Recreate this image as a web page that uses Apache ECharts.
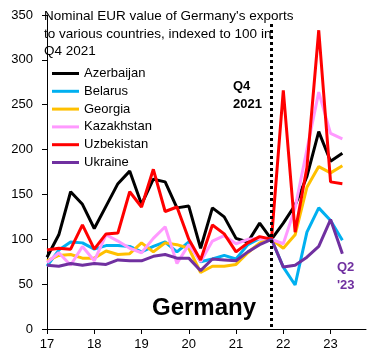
<!DOCTYPE html>
<html>
<head>
<meta charset="utf-8">
<script src="https://cdn.jsdelivr.net/npm/echarts@6/dist/echarts.min.js"></script>
<style>
html,body{margin:0;padding:0;background:#fff;}
#chart{width:383px;height:360px;}
</style>
</head>
<body>
<div id="chart"></div>
<script>
var quarters = ['2017 Q1','2017 Q2','2017 Q3','2017 Q4','2018 Q1','2018 Q2','2018 Q3','2018 Q4',
  '2019 Q1','2019 Q2','2019 Q3','2019 Q4','2020 Q1','2020 Q2','2020 Q3','2020 Q4',
  '2021 Q1','2021 Q2','2021 Q3','2021 Q4','2022 Q1','2022 Q2','2022 Q3','2022 Q4',
  '2023 Q1','2023 Q2','2023 Q3','2023 Q4'];
var azerbaijan = [80,105,153,139,112,137,162,176,139,167,164,135,137,90,135,125,101,97,118,100,118,138,170,220,187,196];
var belarus    = [70,88,97,96,89,93,93,92,86,92,97,86,97,75,78,82,78,94,101,100,69,49,108,135,121,99];
var georgia    = [76,82,83,79,79,87,83,84,96,86,96,94,90,63,70,70,72,85,96,100,90,105,158,181,174,182];
var kazakhstan = [74,85,71,92,76,105,98,90,85,101,114,73,94,75,98,104,95,100,101,100,95,135,200,264,218,212];
var uzbekistan = [88,90,89,116,89,106,107,153,136,178,131,136,100,77,116,106,86,96,103,100,266,108,180,333,164,162];
var ukraine    = [71,70,73,71,73,72,77,76,76,81,83,79,79,65,78,77,76,86,94,100,69,71,80,92,122,84];
var yTicks = [0,50,100,150,200,250,300,350];

var names = ['Azerbaijan','Belarus','Georgia','Kazakhstan','Uzbekistan','Ukraine'];
var colors = ['#000000','#00B0F0','#FFC000','#FF99FF','#FF0000','#7030A0'];
var values = [azerbaijan,belarus,georgia,kazakhstan,uzbekistan,ukraine];
var FONT = 'Liberation Sans';

var series = names.map(function(n,i){
  return {
    name:n, type:'line', data:values[i], symbol:'none', smooth:false,
    lineStyle:{color:colors[i], width:3}, itemStyle:{color:colors[i]},
    emphasis:{disabled:true}, animation:false
  };
});
series[5].markLine = {
  silent:true, symbol:'none', animation:false,
  label:{show:false},
  lineStyle:{color:'#000', width:3, type:[3,3]},
  data:[[{coord:['2021 Q4',340]},{coord:['2021 Q4',0]}]]
};

var chart = echarts.init(document.getElementById('chart'));
chart.setOption({
  animation:false,
  backgroundColor:'#fff',
  grid:{left:47, right:17, top:15, bottom:31, containLabel:false},
  title:[
    {text:"Nominal EUR value of Germany's exports\nto various countries, indexed to 100 in\nQ4 2021",
     left:44, top:8, padding:0, textStyle:{fontFamily:FONT, fontSize:13.5, fontWeight:'normal', color:'#000', lineHeight:17.5}},
    {text:'Q4\n2021', left:233, top:78, padding:0, textStyle:{fontFamily:FONT, fontSize:13, fontWeight:'bold', color:'#000', lineHeight:17.5}},
    {text:"Q2\n'23", left:337, top:259, padding:0, textStyle:{fontFamily:FONT, fontSize:13, fontWeight:'bold', color:'#7030A0', lineHeight:17.5}},
    {text:'Germany', left:152, top:296, padding:0, textStyle:{fontFamily:FONT, fontSize:24, fontWeight:'bold', color:'#000'}}
  ],
  legend:{
    orient:'vertical', left:52, top:67, padding:0, itemWidth:27, itemHeight:3, itemGap:4.8,
    icon:'rect', data:names,
    textStyle:{fontFamily:FONT, fontSize:13, color:'#000', padding:[0,0,0,0]}
  },
  xAxis:{
    type:'category', data:quarters, boundaryGap:false,
    axisLine:{lineStyle:{color:'#000', width:1}},
    axisTick:{show:true, inside:false, length:5, lineStyle:{color:'#000'},
      interval:function(i){return i%4===0;}},
    axisLabel:{interval:function(i){return i%4===0;}, margin:9,
      formatter:function(v){return v.slice(2,4);},
      fontFamily:FONT, fontSize:13, color:'#000'},
    splitLine:{show:false}
  },
  yAxis:{
    type:'value', min:yTicks[0], max:yTicks[yTicks.length-1], interval:50,
    axisLine:{show:true, lineStyle:{color:'#000', width:1}},
    axisTick:{show:true, inside:false, length:5, lineStyle:{color:'#000'}},
    axisLabel:{margin:14, fontFamily:FONT, fontSize:13, color:'#000'},
    splitLine:{show:false}
  },
  series:series
});
</script>
</body>
</html>
